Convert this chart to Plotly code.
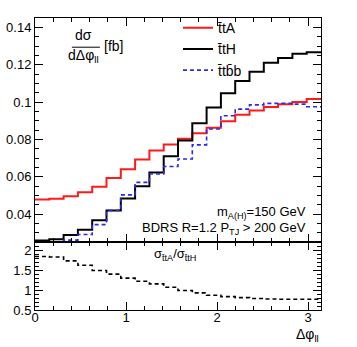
import math
import plotly.graph_objects as go

# bin edges of the delta-phi histogram (20 bins over 0..pi)
edges = [i * math.pi / 20 for i in range(21)]

tta = [0.0478, 0.0482, 0.0496, 0.0517, 0.0547, 0.0593, 0.0640, 0.0692, 0.0741, 0.0773,
       0.0803, 0.0833, 0.0862, 0.0897, 0.0932, 0.0955, 0.0973, 0.0988, 0.1000, 0.1017]
tth = [0.0259, 0.0266, 0.0288, 0.0317, 0.0367, 0.0420, 0.0484, 0.0550, 0.0623, 0.0710,
       0.0794, 0.0887, 0.0971, 0.1047, 0.1113, 0.1162, 0.1210, 0.1236, 0.1258, 0.1266]
ttbb = [0.0251, 0.0252, 0.0261, 0.0291, 0.0344, 0.0420, 0.0503, 0.0570, 0.0615, 0.0655,
        0.0695, 0.0771, 0.0856, 0.0927, 0.0962, 0.0985, 0.0993, 0.0993, 0.0989, 0.0975]
ratio = [1.84, 1.83, 1.73, 1.62, 1.49, 1.40, 1.30, 1.22, 1.155, 1.07,
         0.99, 0.93, 0.87, 0.835, 0.81, 0.79, 0.775, 0.77, 0.77, 0.77]

FONT = "Liberation Sans, Arial, sans-serif"


def steps(vals):
    return vals + [vals[-1]]


fig = go.Figure()
fig.add_trace(go.Scatter(x=edges, y=steps(tta), mode='lines', line_shape='hv',
                         line=dict(color='#ff1a1a', width=2), name='t̄tA'))
fig.add_trace(go.Scatter(x=edges, y=steps(tth), mode='lines', line_shape='hv',
                         line=dict(color='black', width=2), name='t̄tH'))
fig.add_trace(go.Scatter(x=edges, y=steps(ttbb), mode='lines', line_shape='hv',
                         line=dict(color='#2a2ae6', width=1.6, dash='4px,3px'), name='t̄tb̄b'))
fig.add_trace(go.Scatter(x=edges, y=steps(ratio), mode='lines', line_shape='hv',
                         line=dict(color='black', width=1.6, dash='4px,3px'),
                         xaxis='x2', yaxis='y2', showlegend=False))

split = 0.2323
axis_common = dict(showline=True, linecolor='black', linewidth=1, mirror='ticks',
                   ticks='inside', tickcolor='black', showgrid=False, zeroline=False,
                   automargin=False,
                   tickfont=dict(family=FONT, size=13, color='black'))

fig.update_layout(
    width=357, height=347,
    margin=dict(l=35, r=36, t=13, b=37),
    paper_bgcolor='white', plot_bgcolor='white',
    font=dict(family=FONT, size=13, color='black'),
    xaxis=dict(domain=[0, 1], range=[0, math.pi], anchor='y', showticklabels=False,
               dtick=1, ticklen=8, minor=dict(dtick=0.2, ticklen=4, ticks='inside'),
               **axis_common),
    yaxis=dict(domain=[split, 1], range=[0.025, 0.145], anchor='x',
               dtick=0.02, tick0=0, ticklen=8,
               minor=dict(dtick=0.005, ticklen=4, ticks='inside'), **axis_common),
    xaxis2=dict(domain=[0, 1], range=[0, math.pi], anchor='y2', ticklabelstandoff=-5,
                dtick=1, ticklen=8, minor=dict(dtick=0.2, ticklen=4, ticks='inside'),
                **axis_common),
    yaxis2=dict(domain=[0, split], range=[0.5, 2.2], anchor='x2',
                dtick=0.5, tick0=0, ticklen=8,
                minor=dict(dtick=0.1, ticklen=4, ticks='inside'), **axis_common),
    legend=dict(x=0.5, y=1.02, xanchor='left', yanchor='top', bgcolor='rgba(0,0,0,0)',
                font=dict(family=FONT, size=14), tracegroupgap=0, itemwidth=30),
)

ann = dict(xref='paper', yref='paper', showarrow=False, font=dict(family=FONT, size=14))
fig.add_annotation(x=0.168, y=1.0, yshift=-17, text='dσ', xanchor='center', yanchor='middle', **ann)
fig.add_annotation(x=0.168, y=1.0, yshift=-38, text='dΔφ<sub>ll</sub>', xanchor='center',
                   yanchor='middle', **ann)
fig.add_annotation(x=0.274, y=1.0, yshift=-28, text='[fb]', xanchor='center', yanchor='middle', **ann)
fig.add_shape(type='line', xref='paper', yref='paper', x0=0.129, x1=0.227, y0=0.9, y1=0.9,
              line=dict(color='black', width=1))

ann13 = dict(xref='paper', yref='paper', showarrow=False, font=dict(family=FONT, size=13))
fig.add_annotation(x=0.955, y=0.335, text='m<sub>A(H)</sub>=150 GeV', xanchor='right',
                   yanchor='middle', **ann13)
fig.add_annotation(x=0.955, y=0.28, text='BDRS R=1.2 P<sub>TJ</sub> &gt; 200 GeV', xanchor='right',
                   yanchor='middle', **ann13)
fig.add_annotation(x=0.41, y=0.19, text='σ<sub>t̄tA</sub>/σ<sub>t̄tH</sub>', xanchor='left',
                   yanchor='middle', **ann13)
fig.add_annotation(x=1.0, y=0, yshift=-25, text='Δφ<sub>ll</sub>', xanchor='right',
                   yanchor='middle', **ann)

# drop the browser's default body margin so the figure sits at the page origin
fig.write_html("out.html", config={'displayModeBar': False},
               post_script="document.body.style.margin='0px';")
